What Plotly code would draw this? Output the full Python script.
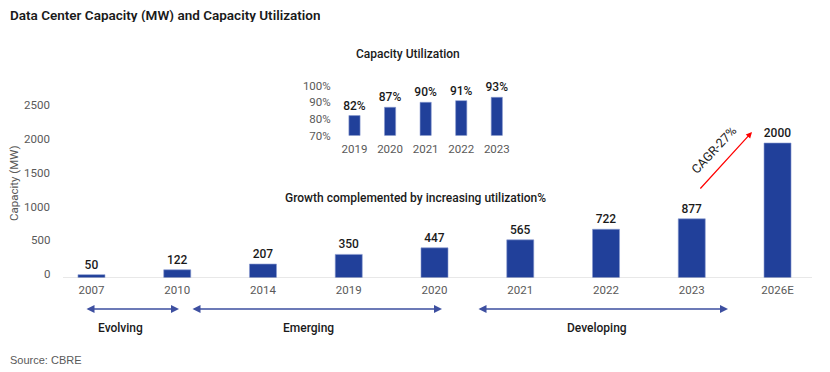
import plotly.graph_objects as go

# ---- data ----
years = ["2007", "2010", "2014", "2019", "2020", "2021", "2022", "2023", "2026E"]
capacity_mw = [50, 122, 207, 350, 447, 565, 722, 877, 2000]
y_ticks = [0, 500, 1000, 1500, 2000, 2500]

util_years = ["2019", "2020", "2021", "2022", "2023"]
utilization = [82, 87, 90, 91, 93]
util_ticks = [70, 80, 90, 100]

phases = ["Evolving", "Emerging", "Developing"]
cagr_label = "CAGR-27%"

W, H = 830, 372
OFF = 8  # page body margin
def px(x): return (x - OFF) / W
def py(y): return 1 - (y - OFF) / H

FONT = "Roboto, Open Sans, sans-serif"
BLUE = "#21409A"
GREY = "#595959"
DARK = "#1a1a1a"

fig = go.Figure()

fig.add_trace(go.Bar(
    x=years, y=capacity_mw, marker=dict(color=BLUE, line=dict(color="#8a9ad0", width=0.6)),
    text=[str(v) for v in capacity_mw], textposition="outside", cliponaxis=False,
    constraintext="none",
    textfont=dict(family=FONT, size=12, color=DARK, weight=500),
    xaxis="x", yaxis="y", showlegend=False,
))

fig.add_trace(go.Bar(
    x=util_years, y=utilization, marker=dict(color=BLUE, line=dict(color="#8a9ad0", width=0.6)),
    text=[f"{v}%" for v in utilization], textposition="outside", cliponaxis=False,
    constraintext="none",
    textfont=dict(family=FONT, size=12, color=DARK, weight=500),
    xaxis="x2", yaxis="y2", showlegend=False,
))

main_y0, main_y_scale = 278, 0.0675  # px baseline, px per MW
main_top_val = 2600
fig.update_layout(
    template="none",
    width=W, height=H, margin=dict(l=0, r=0, t=0, b=0, pad=0, autoexpand=False),
    paper_bgcolor="white", plot_bgcolor="rgba(0,0,0,0)",
    bargap=0.685, showlegend=False,
    font=dict(family=FONT, color=GREY),
    xaxis=dict(domain=[px(48.6), px(820.4)], range=[-0.5, 8.5], type="category",
               showline=False, showgrid=False, zeroline=False, ticks="",
               tickfont=dict(size=11.5, color=GREY), anchor="y", automargin=False,
               ticklabelstandoff=3),
    yaxis=dict(domain=[py(main_y0), py(main_y0 - main_top_val * main_y_scale)],
               range=[0, main_top_val], showgrid=False, zeroline=False, showline=False,
               showticklabels=False, ticks="", anchor="x", automargin=False),
    xaxis2=dict(domain=[px(336.7), px(514.6)], range=[-0.5, 4.5], type="category",
                showline=False, showgrid=False, zeroline=False, ticks="",
                tickfont=dict(size=11.5, color=GREY), anchor="y2", automargin=False,
                ticklabelstandoff=5),
    yaxis2=dict(domain=[py(135.5), py(85.7)], range=[70, 100], tickvals=util_ticks,
                ticktext=[f"{t}%" for t in util_ticks], showgrid=False, zeroline=False,
                showline=False, ticks="", tickfont=dict(size=11.5, color=GREY),
                anchor="x2", ticklabelstandoff=5, automargin=False),
)

fig.add_shape(type="line", xref="paper", yref="y", x0=px(63), x1=px(812), y0=0, y1=0,
              line=dict(color="#d0d0d0", width=1))

def txt(x, y, s, size=12, color=DARK, weight=500, angle=0, xa="center", family=FONT, h=None):
    d = dict(xref="paper", yref="paper", x=px(x), y=py(y), text=s, showarrow=False,
             xanchor=xa, yanchor="middle", textangle=angle,
             font=dict(size=size, color=color, family=family, weight=weight))
    if h:
        d["height"] = h
    return d

ann = []
for t in y_ticks:
    ann.append(dict(xref="paper", yref="y", x=px(52), y=t, text=str(t), showarrow=False,
                    xanchor="right", yanchor="middle", yshift=4,
                    font=dict(size=11.5, color=GREY, family=FONT)))
ann.append(txt(14, 183, "Capacity (MW)", size=11.5, color=GREY, weight=400, angle=-90))
ann.append(txt(8, 15, "Data Center Capacity (MW) and Capacity Utilization", size=13.5,
               weight=600, xa="left", h=14))
ann.append(txt(408, 54, "Capacity Utilization", size=12))
ann.append(txt(415, 198, "Growth complemented by increasing utilization%", size=12))
ann.append(txt(8, 360, "Source: CBRE", size=11, color=GREY, weight=400, xa="left",
               family="Liberation Sans, Arial"))

spans = [(85, 179, 120), (191, 442, 308), (477, 728, 597)]
for name, (a, b, c) in zip(phases, spans):
    ann.append(dict(xref="paper", yref="paper", x=px(b), y=py(309), ax=a - b, ay=0,
                    text="", showarrow=True, arrowside="end+start", arrowhead=2,
                    arrowsize=1, arrowwidth=1.6, arrowcolor="#3D4FA0", standoff=0, startstandoff=0))
    ann.append(txt(c, 328, name, size=12))

ann.append(dict(xref="paper", yref="paper", x=px(752), y=py(132), ax=699 - 752, ay=190 - 132,
                text="", showarrow=True, arrowhead=2, arrowsize=1, arrowwidth=1.2,
                arrowcolor="#FF0000", standoff=0))
ann.append(txt(713, 150, cagr_label, size=12.5, weight=400, angle=-47))

fig.update_layout(annotations=ann)
fig.write_html("out.html")
